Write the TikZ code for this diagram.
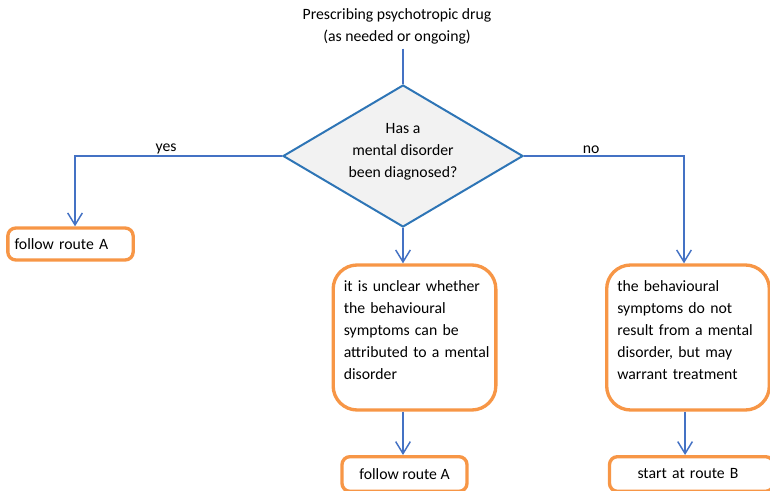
\documentclass[tikz,border=0pt]{standalone}
\usepackage{fontspec}
\setmainfont{Carlito}
\usetikzlibrary{arrows.meta, shapes.geometric}
\definecolor{flowBlue}{HTML}{4472C4}
\definecolor{questionBlue}{HTML}{2E75B6}
\definecolor{questionFill}{HTML}{F2F2F2}
\definecolor{routeOrange}{HTML}{F79646}
\newcommand{\flowfont}{\fontsize{11.8}{16.5}\selectfont\hyphenpenalty=10000 }

\begin{document}
\begin{tikzpicture}[
    x=0.75pt, y=-0.75pt,
    % ── shared styles ───────────────────────────────────────────────
    question/.style={
        diamond, aspect=1.7,
        fill=questionFill, draw=questionBlue, line width=1.5pt,
        minimum width=180pt, minimum height=106.5pt,
        inner sep=0pt, align=center, font=\flowfont,
    },
    route box/.style={
        rectangle, rounded corners=6pt,
        draw=routeOrange, line width=2.5pt, fill=white,
        font=\flowfont, align=left,
        minimum height=24pt,
    },
    outcome/.style={
        rectangle, rounded corners=18pt,
        draw=routeOrange, line width=2.5pt, fill=white,
        font=\flowfont, align=left,
        minimum height=108.75pt, inner xsep=8pt,
        text width=106pt,
    },
    conn/.style={
        -{Straight Barb[length=9pt,width=11pt]},
        flowBlue, line width=1.1pt,
    },
    conn label/.style={font=\flowfont, text=black, inner sep=1pt},
]
\useasboundingbox (0,0) rectangle (770,491);
\clip (0,0) rectangle (770,491);

% =============================================================
%  START AND QUESTION
% =============================================================
\node[font=\flowfont, align=center] (start) at (397,26)
    {Prescribing psychotropic drug\\(as needed or ongoing)};

\node[question] (q) at (403,156)
    {Has a\\mental disorder\\been diagnosed?\\[-7.5pt]\mbox{}};

% =============================================================
%  OUTCOMES
% =============================================================
\node[route box, text width=84pt, inner xsep=5pt] (yesA) at (70.5,244)
    {follow route A};

\node[outcome] (unclear) at (414.5,337.5)
    {it is unclear whether\\the behavioural\\symptoms can be\\attributed~to~a~mental\\disorder\\[-6pt]\mbox{}};

\node[outcome] (notMental) at (688,337.5)
    {the behavioural\\symptoms do not\\result from a mental\\disorder, but may\\warrant treatment\\[-6pt]\mbox{}};

\node[route box, minimum width=93.75pt, align=center, minimum height=26pt] (endA) at (404.5,474)
    {follow route A};

\node[route box, text width=81pt, inner xsep=21pt, minimum height=26pt] (endB) at (691.5,474)
    {start at route B};

% =============================================================
%  CONNECTORS
% =============================================================
\draw[flowBlue, line width=0.8pt] (q.north |- start.south) -- (q.north);

\draw[conn] (q.west) -| ([xshift=3.4pt]yesA.north)
    node[conn label, pos=0.28, above] {yes};
\draw[conn] (q.east) -| ([xshift=-3pt]notMental.north)
    node[conn label, pos=0.21, above] {no};

\draw[conn] (q.south) -- (q.south |- unclear.north);
\draw[conn] (q.south |- unclear.south) -- (q.south |- endA.north);
\draw[conn] ([xshift=-2.2pt]notMental.south) -- ([xshift=-2.2pt]notMental.south |- endB.north);

\end{tikzpicture}
\end{document}
